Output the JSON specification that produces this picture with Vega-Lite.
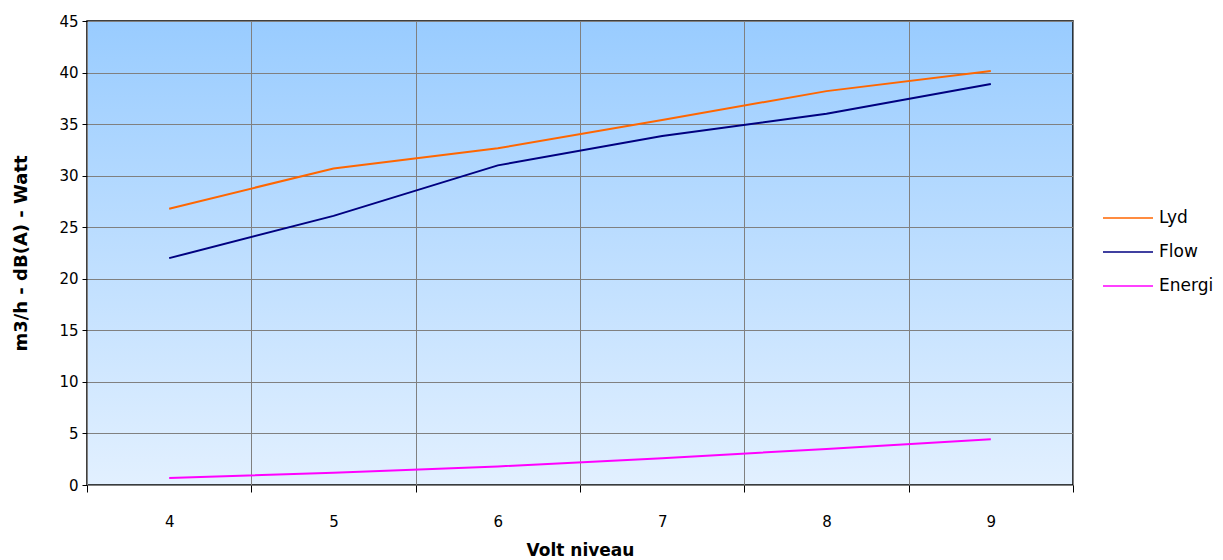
{
  "$schema": "https://vega.github.io/schema/vega-lite/v6.json",
  "autosize": {"type": "none"},
  "padding": {"left": 87, "top": 21, "right": 150, "bottom": 75},
  "width": 986,
  "height": 464,
  "background": "white",
  "config": {
    "font": "DejaVu Sans",
    "view": {
      "stroke": "black",
      "strokeWidth": 1.5,
      "fill": {
        "gradient": "linear",
        "x1": 0, "y1": 0, "x2": 0, "y2": 1,
        "stops": [
          {"offset": 0, "color": "#99ccff"},
          {"offset": 1, "color": "#e2f0ff"}
        ]
      }
    },
    "axis": {
      "labelFont": "DejaVu Sans",
      "titleFont": "DejaVu Sans",
      "labelFontSize": 15,
      "titleFontSize": 17,
      "titleFontWeight": "bold",
      "labelColor": "black",
      "titleColor": "black",
      "domainColor": "black",
      "tickColor": "black",
      "gridColor": "#808080",
      "gridOpacity": 1,
      "gridWidth": 1
    }
  },
  "data": {
    "values": [
      {"volt": "4", "serie": "Lyd", "value": 26.8},
      {"volt": "5", "serie": "Lyd", "value": 30.7},
      {"volt": "6", "serie": "Lyd", "value": 32.65},
      {"volt": "7", "serie": "Lyd", "value": 35.4},
      {"volt": "8", "serie": "Lyd", "value": 38.2},
      {"volt": "9", "serie": "Lyd", "value": 40.15},
      {"volt": "4", "serie": "Flow", "value": 22.0},
      {"volt": "5", "serie": "Flow", "value": 26.1},
      {"volt": "6", "serie": "Flow", "value": 31.0},
      {"volt": "7", "serie": "Flow", "value": 33.85},
      {"volt": "8", "serie": "Flow", "value": 36.0},
      {"volt": "9", "serie": "Flow", "value": 38.9},
      {"volt": "4", "serie": "Energi", "value": 0.68},
      {"volt": "5", "serie": "Energi", "value": 1.2},
      {"volt": "6", "serie": "Energi", "value": 1.8},
      {"volt": "7", "serie": "Energi", "value": 2.6},
      {"volt": "8", "serie": "Energi", "value": 3.5},
      {"volt": "9", "serie": "Energi", "value": 4.43}
    ]
  },
  "mark": {"type": "line", "strokeWidth": 2},
  "encoding": {
    "x": {
      "field": "volt",
      "type": "ordinal",
      "scale": {"type": "band", "paddingInner": 0, "paddingOuter": 0},
      "axis": {
        "title": "Volt niveau",
        "labelAngle": 0,
        "tickBand": "extent",
        "grid": true,
        "tickSize": 7,
        "labelPadding": 22,
        "titlePadding": 13,
        "domain": false
      }
    },
    "y": {
      "field": "value",
      "type": "quantitative",
      "scale": {"domain": [0, 45], "nice": false},
      "axis": {
        "title": "m3/h - dB(A) - Watt",
        "titleFontSize": 18,
        "values": [0, 5, 10, 15, 20, 25, 30, 35, 40, 45],
        "tickSize": 5,
        "labelPadding": 4,
        "titlePadding": 28,
        "domain": false
      }
    },
    "color": {
      "field": "serie",
      "type": "nominal",
      "scale": {"domain": ["Lyd", "Flow", "Energi"], "range": ["#ff6600", "#000080", "#ff00ff"]},
      "legend": {
        "title": null,
        "orient": "none",
        "legendX": 1015,
        "legendY": 171,
        "symbolType": "stroke",
        "symbolSize": 2500,
        "symbolStrokeWidth": 1.5,
        "labelFontSize": 17,
        "labelFont": "DejaVu Sans",
        "labelColor": "black",
        "labelOffset": 5,
        "rowPadding": 0,
        "padding": 0
      }
    }
  }
}
